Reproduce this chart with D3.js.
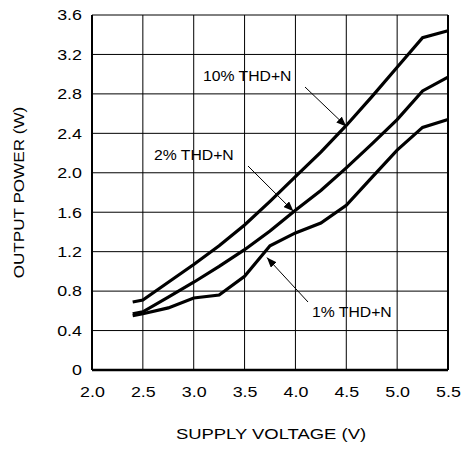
<!DOCTYPE html>
<html>
<head>
<meta charset="utf-8">
<script src="https://cdn.jsdelivr.net/npm/d3@7"></script>
<style>
  body { margin: 0; background: #fff; }
  text { font-family: "Liberation Sans", Arial, sans-serif; fill: #000; }
</style>
</head>
<body>
<svg id="chart"></svg>
<script>
// Supply voltage (V) samples
const voltage = [2.4, 2.5, 2.75, 3.0, 3.25, 3.5, 3.75, 4.0, 4.25, 4.5, 4.75, 5.0, 5.25, 5.5];

// Output power (W) for each THD+N level
const thd10 = [0.69, 0.71, 0.89, 1.07, 1.26, 1.47, 1.71, 1.96, 2.21, 2.48, 2.77, 3.07, 3.37, 3.44];
const thd2  = [0.57, 0.59, 0.74, 0.89, 1.05, 1.22, 1.41, 1.62, 1.82, 2.05, 2.29, 2.54, 2.83, 2.97];
const thd1  = [0.55, 0.57, 0.63, 0.73, 0.76, 0.95, 1.26, 1.39, 1.49, 1.67, 1.95, 2.23, 2.46, 2.54];

const xTicks = [2.0, 2.5, 3.0, 3.5, 4.0, 4.5, 5.0, 5.5];
const yTicks = [0, 0.4, 0.8, 1.2, 1.6, 2.0, 2.4, 2.8, 3.2, 3.6];

// Curve labels: text, anchor point (voltage, power) the arrow points at
const labels = [
  { text: "10% THD+N", at: [4.5, 2.47] },
  { text: "2% THD+N",  at: [3.98, 1.61] },
  { text: "1% THD+N",  at: [3.72, 1.14] }
];

const W = 463, H = 449;
const margin = { top: 15, right: 15, bottom: 79, left: 92 };
const width = W - margin.left - margin.right,
      height = H - margin.top - margin.bottom;
const stretch = 1.19;   // glyphs in the reference are wider than Arial

const svg = d3.select("#chart").attr("width", W).attr("height", H);

svg.append("defs").append("marker")
  .attr("id", "arrow")
  .attr("viewBox", "0 0 10 8")
  .attr("refX", 10).attr("refY", 4)
  .attr("markerWidth", 10).attr("markerHeight", 8)
  .attr("markerUnits", "userSpaceOnUse")
  .attr("orient", "auto")
  .append("path").attr("d", "M0,0L10,4L0,8Z").attr("fill", "#000");

const g = svg.append("g").attr("transform", `translate(${margin.left},${margin.top})`);

const x = d3.scaleLinear().domain([2.0, 5.5]).range([0, width]);
const y = d3.scaleLinear().domain([0, 3.6]).range([height, 0]);

// grid
g.selectAll(".vgrid").data(xTicks).join("line")
  .attr("x1", d => x(d)).attr("x2", d => x(d))
  .attr("y1", 0).attr("y2", height)
  .attr("stroke", "#000").attr("stroke-width", 1);
g.selectAll(".hgrid").data(yTicks).join("line")
  .attr("x1", 0).attr("x2", width)
  .attr("y1", d => y(d)).attr("y2", d => y(d))
  .attr("stroke", "#000").attr("stroke-width", 1);

// frame: heavier left, bottom, right
g.append("line").attr("x1", 0).attr("x2", 0).attr("y1", 0).attr("y2", height).attr("stroke", "#000").attr("stroke-width", 2);
g.append("line").attr("x1", 0).attr("x2", width).attr("y1", height).attr("y2", height).attr("stroke", "#000").attr("stroke-width", 2.5);
g.append("line").attr("x1", width).attr("x2", width).attr("y1", 0).attr("y2", height).attr("stroke", "#000").attr("stroke-width", 2);

// tick labels (axis generators, domain hidden)
const xAxis = g.append("g").attr("transform", `translate(0,${height})`)
  .call(d3.axisBottom(x).tickValues(xTicks).tickFormat(d3.format(".1f")).tickSize(0).tickPadding(16));
const yAxis = g.append("g")
  .call(d3.axisLeft(y).tickValues(yTicks).tickFormat(d => d === 0 ? "0" : d3.format(".1f")(d)).tickSize(0));
[xAxis, yAxis].forEach(a => {
  a.select(".domain").remove();
  a.selectAll("text")
    .style("font-family", '"Liberation Sans", Arial, sans-serif')
    .style("font-size", "15px")
    .attr("fill", "#000")
    .attr("transform", `scale(${stretch},1)`);
});
yAxis.selectAll("text").attr("x", -10 / stretch);

// curves
const line = d3.line().x(d => x(d[0])).y(d => y(d[1]));
[thd10, thd2, thd1].forEach(series => {
  g.append("path")
    .datum(voltage.map((v, i) => [v, series[i]]))
    .attr("fill", "none").attr("stroke", "#000")
    .attr("stroke-width", 3.2).attr("stroke-linejoin", "miter")
    .attr("d", line);
});

// labels + arrows
const labelPos = [
  { tx: 111, ty: 66, from: [213, 72] },
  { tx: 62, ty: 145, from: [156, 151] },
  { tx: 220, ty: 302, from: [216, 287] }
];
labels.forEach((l, i) => {
  const p = labelPos[i];
  g.append("text").attr("transform", `translate(${p.tx},${p.ty}) scale(1.05,1)`)
    .style("font-size", "15px").text(l.text);
  g.append("line")
    .attr("x1", p.from[0]).attr("y1", p.from[1])
    .attr("x2", x(l.at[0])).attr("y2", y(l.at[1]))
    .attr("stroke", "#000").attr("stroke-width", 1)
    .attr("marker-end", "url(#arrow)");
});

// axis titles
svg.append("text")
  .attr("transform", `translate(${margin.left + width / 2 + 1},439) scale(1.23,1)`)
  .attr("text-anchor", "middle").style("font-size", "15px")
  .text("SUPPLY VOLTAGE (V)");
svg.append("text")
  .attr("transform", `translate(24,${margin.top + height / 2}) rotate(-90) scale(1.14,1)`)
  .attr("text-anchor", "middle").style("font-size", "15px")
  .text("OUTPUT POWER (W)");
</script>
</body>
</html>
